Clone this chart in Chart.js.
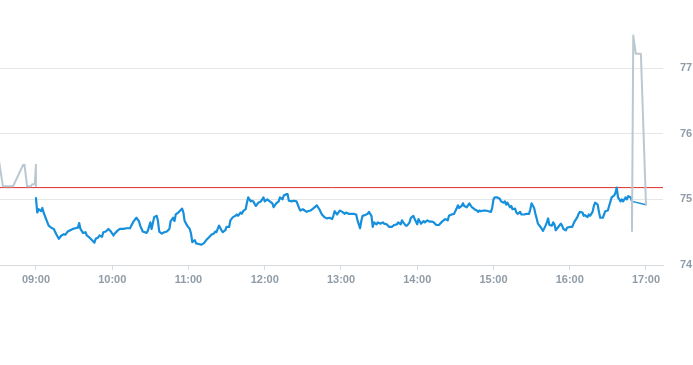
<!DOCTYPE html>
<html>
<head>
<meta charset="utf-8">
<script src="https://cdn.jsdelivr.net/npm/chart.js@4.4.1/dist/chart.umd.min.js"></script>
<style>
  body { margin: 0; background: #fff; }
  #wrap { width: 693px; height: 365px; }
</style>
</head>
<body>
<div id="wrap"><canvas id="chart" width="693" height="365"></canvas></div>
<script>
// pre-market (grey)
const preTimes = ["08:30", "08:34", "08:42", "08:50", "08:51", "08:53", "08:56", "08:57", "08:59", "09:00", "09:00"];
const preValues = [75.70, 75.20, 75.20, 75.53, 75.53, 75.20, 75.20, 75.23, 75.23, 75.53, 75.20];

// regular session (blue)
const sessionTimes = [
  "09:00","09:01","09:02","09:04","09:05","09:06","09:08","09:10","09:12","09:14","09:16","09:18","09:20","09:22","09:23","09:25",
  "09:27","09:29","09:31","09:33","09:34","09:35","09:37","09:39","09:40","09:42","09:44","09:46","09:47","09:49","09:50","09:52",
  "09:53","09:55","09:57","09:59","10:01","10:02","10:04","10:06","10:09","10:11","10:14","10:15","10:17","10:19","10:21","10:22",
  "10:24","10:27","10:28","10:30","10:31","10:33","10:35","10:36","10:37","10:39","10:41","10:43","10:45","10:46","10:48","10:49",
  "10:50","10:52","10:53","10:55","10:56","10:57","10:59","11:01","11:02","11:03","11:05","11:06","11:08","11:10","11:12","11:14",
  "11:16","11:18","11:20","11:21","11:22","11:24","11:26","11:27","11:29","11:30","11:32","11:33","11:35","11:37","11:38","11:39",
  "11:41","11:42","11:43","11:45","11:46","11:47","11:49","11:50","11:51","11:53","11:55","11:57","11:59","12:00","12:02","12:04",
  "12:06","12:07","12:09","12:11","12:12","12:14","12:15","12:17","12:18","12:19","12:21","12:23","12:25","12:27","12:28","12:30",
  "12:33","12:34","12:36","12:38","12:41","12:43","12:45","12:47","12:49","12:51","12:53","12:54","12:55","12:57","12:59","13:01",
  "13:03","13:04","13:06","13:08","13:10","13:12","13:13","13:15","13:16","13:17","13:19","13:21","13:22","13:24","13:25","13:26",
  "13:28","13:29","13:31","13:33","13:34","13:36","13:38","13:40","13:42","13:44","13:45","13:47","13:48","13:49","13:51","13:52",
  "13:54","13:55","13:57","13:58","14:00","14:01","14:03","14:05","14:06","14:08","14:10","14:12","14:13","14:15","14:17","14:19",
  "14:20","14:22","14:24","14:25","14:27","14:29","14:31","14:32","14:33","14:35","14:36","14:37","14:39","14:40","14:41","14:43",
  "14:44","14:45","14:47","14:48","14:49","14:50","14:52","14:54","14:56","14:58","14:59","15:00","15:01","15:03","15:05","15:06",
  "15:08","15:09","15:10","15:11","15:13","15:14","15:15","15:17","15:18","15:19","15:21","15:22","15:24","15:26","15:28","15:29",
  "15:30","15:32","15:33","15:34","15:35","15:37","15:38","15:39","15:41","15:42","15:43","15:44","15:46","15:47","15:48","15:49",
  "15:51","15:53","15:54","15:55","15:57","15:58","16:00","16:02","16:03","16:04","16:06","16:07","16:08","16:10","16:11","16:12",
  "16:14","16:15","16:16","16:18","16:19","16:20","16:22","16:23","16:24","16:26","16:27","16:28","16:30","16:31","16:33","16:35",
  "16:36","16:37","16:38","16:40","16:41","16:42","16:44","16:45","16:46","16:48","16:49"
];
const sessionValues = [
  75.02,74.80,74.85,74.82,74.87,74.80,74.70,74.60,74.57,74.55,74.47,74.40,74.45,74.47,74.46,74.51,
  74.53,74.55,74.56,74.57,74.64,74.55,74.49,74.50,74.45,74.42,74.38,74.34,74.40,74.42,74.45,74.43,
  74.50,74.51,74.55,74.51,74.45,74.48,74.52,74.55,74.55,74.56,74.56,74.60,74.67,74.72,74.67,74.60,
  74.51,74.49,74.52,74.65,74.55,74.73,74.75,74.67,74.51,74.48,74.50,74.51,74.55,74.67,74.72,74.67,
  74.77,74.80,74.82,74.86,74.80,74.67,74.60,74.55,74.48,74.35,74.38,74.33,74.32,74.31,74.33,74.38,
  74.42,74.46,74.48,74.51,74.50,74.60,74.53,74.50,74.53,74.58,74.58,74.68,74.73,74.75,74.77,74.75,
  74.80,74.78,74.82,74.85,74.95,75.03,74.97,74.98,74.97,74.90,74.95,74.97,75.03,74.97,75.00,74.97,
  74.94,74.88,74.94,74.97,75.03,75.00,75.06,75.08,75.08,74.98,74.97,74.98,74.97,74.87,74.83,74.85,
  74.81,74.82,74.83,74.86,74.91,74.85,74.77,74.73,74.71,74.72,74.70,74.75,74.82,74.77,74.83,74.81,
  74.78,74.80,74.78,74.78,74.78,74.77,74.68,74.56,74.67,74.75,74.76,74.78,74.81,74.75,74.58,74.65,
  74.62,74.65,74.63,74.65,74.63,74.62,74.58,74.58,74.61,74.62,74.65,74.62,74.68,74.65,74.60,74.60,
  74.65,74.72,74.75,74.70,74.62,74.70,74.63,74.67,74.65,74.68,74.66,74.66,74.65,74.61,74.61,74.65,
  74.67,74.70,74.68,74.75,74.77,74.78,74.86,74.91,74.87,74.90,74.94,74.90,74.88,74.91,74.94,74.88,
  74.87,74.85,74.83,74.81,74.83,74.82,74.83,74.83,74.82,74.81,74.87,75.00,75.03,75.03,75.01,74.97,
  74.95,74.97,74.92,74.95,74.88,74.90,74.85,74.86,74.80,74.78,74.81,74.77,74.77,74.78,74.78,74.85,
  74.94,74.87,74.78,74.71,74.63,74.58,74.55,74.52,74.60,74.65,74.71,74.61,74.60,74.65,74.62,74.53,
  74.58,74.63,74.60,74.55,74.53,74.57,74.58,74.58,74.63,74.67,74.73,74.78,74.81,74.80,74.75,74.76,
  74.73,74.77,74.75,74.81,74.90,74.95,74.92,74.81,74.72,74.72,74.77,74.82,74.83,74.90,75.03,75.06,
  75.10,75.18,75.03,74.97,75.00,74.97,75.03,75.00,75.05,75.03,74.97
];

// closing link (thin blue)
const closeTimes = ["16:49", "17:00"];
const closeValues = [74.97, 74.92];

// after hours (grey)
const afterTimes = ["16:49", "16:49", "16:50", "16:52", "16:56", "17:00"];
const afterValues = [74.97, 74.52, 77.50, 77.22, 77.22, 74.92];

const prevClose = 75.18;
const xTickLabels = ["09:00", "10:00", "11:00", "12:00", "13:00", "14:00", "15:00", "16:00", "17:00"];
const yTickValues = [74, 75, 76, 77];

function toMin(t) {
  const p = t.split(":");
  return +p[0] * 60 + +p[1];
}
function pts(times, values) {
  return times.map((t, i) => ({ x: toMin(t), y: values[i] }));
}
function fmt(m) {
  const h = Math.floor(m / 60), mm = Math.round(m % 60);
  return String(h).padStart(2, "0") + ":" + String(mm).padStart(2, "0");
}

const xMin = 511.7, xMax = 1033.4;
const tickFont = { family: "'Liberation Sans', Arial, sans-serif", size: 11, weight: "bold" };
const tickColor = "#8f9ca8";

new Chart(document.getElementById("chart"), {
  type: "line",
  data: {
    datasets: [
      { data: pts(afterTimes, afterValues), borderColor: "#bcc8d0", borderWidth: 2 },
      { data: pts(closeTimes, closeValues), borderColor: "#168fdc", borderWidth: 1.5 },
      { data: pts(sessionTimes, sessionValues), borderColor: "#168fdc", borderWidth: 2.2 },
      { data: pts(preTimes, preValues), borderColor: "#bcc8d0", borderWidth: 2 },
      { data: [{ x: xMin, y: prevClose }, { x: xMax, y: prevClose }], borderColor: "#e0302a", borderWidth: 1 },
    ],
  },
  options: {
    responsive: false,
    animation: false,
    layout: { padding: 0 },
    elements: {
      point: { radius: 0 },
      line: { tension: 0, borderJoinStyle: "round", borderCapStyle: "round" },
    },
    plugins: { legend: { display: false }, tooltip: { enabled: false } },
    scales: {
      x: {
        type: "linear",
        min: xMin,
        max: xMax,
        afterBuildTicks: (s) => { s.ticks = xTickLabels.map((l) => ({ value: toMin(l) })); },
        afterFit: (s) => { s.height = 100; },
        border: { display: true, color: "#d5dadf", width: 1 },
        grid: { display: true, drawOnChartArea: false, drawTicks: true, tickLength: 5, color: "#d5dadf" },
        ticks: { callback: (v) => fmt(v), font: tickFont, color: tickColor, padding: 3, maxRotation: 0, autoSkip: false },
      },
      y: {
        position: "right",
        min: 74,
        max: 77.68,
        afterBuildTicks: (s) => { s.ticks = yTickValues.map((v) => ({ value: v })); },
        afterFit: (s) => { s.width = 30; },
        border: { display: false },
        grid: { color: "#e4e6e8", drawTicks: false },
        ticks: { font: tickFont, color: tickColor, padding: 17 },
      },
    },
  },
});
</script>
</body>
</html>
